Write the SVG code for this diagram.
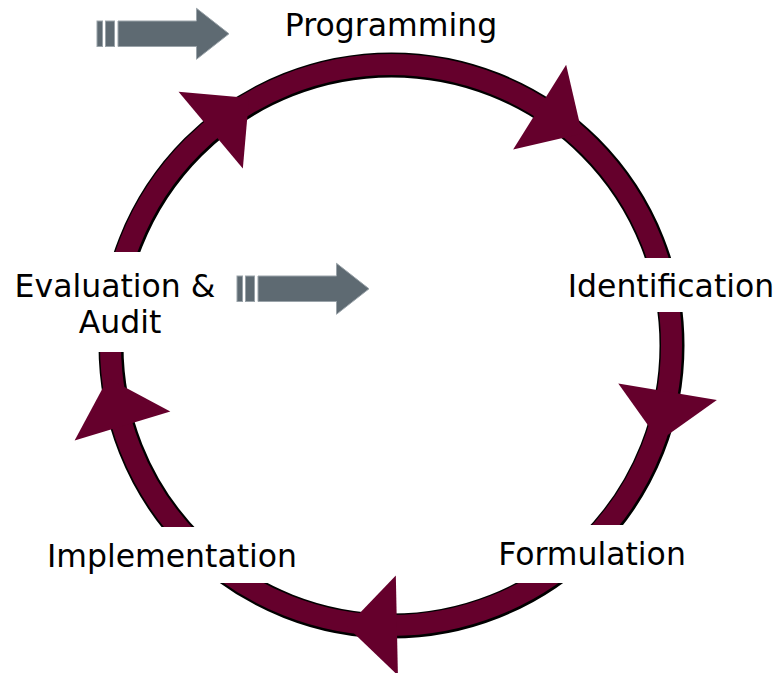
<svg xmlns="http://www.w3.org/2000/svg" xmlns:xlink="http://www.w3.org/1999/xlink" width="780" height="673" viewBox="0 0 780 673">
<style>
.lbl{font-family:"DejaVu Sans","Verdana",sans-serif;font-size:31.5px;fill:#000;text-anchor:middle}
.bg{fill:#fff}
.ring-shadow{fill:none;stroke:#000;stroke-width:25}
.ring{fill:none;stroke:#65002c;stroke-width:21}
.ah{fill:#65002c}
.garrow{fill:#5e6a72;stroke:#9aa3a9;stroke-width:1}
</style>
<defs>
<polygon id="head" points="-50,0 50,0 0,50"/>
<g id="grey">
<rect x="0" y="0" width="5.5" height="25.5"/>
<rect x="8.5" y="0" width="9" height="25.5"/>
<polygon points="21,0 99.5,0 99.5,-12.7 132,12.8 99.5,38.3 99.5,25.5 21,25.5"/>
</g>
</defs>
<rect width="780" height="673" fill="#fff"/>
<g id="connectors">
<circle class="ring-shadow" cx="391.5" cy="345.5" r="280.5"/>
<circle class="ring" cx="391" cy="345" r="280.5"/>
<use xlink:href="#head" class="ah" transform="rotate(230 391 345) translate(671.5 345)"/>
<use xlink:href="#head" class="ah" transform="rotate(302 391 345) translate(671.5 345)"/>
<use xlink:href="#head" class="ah" transform="rotate(9.6 391 345) translate(671.5 345)"/>
<use xlink:href="#head" class="ah" transform="rotate(88.8 391 345) translate(671.5 345)"/>
<use xlink:href="#head" class="ah" transform="rotate(163.2 391 345) translate(671.5 345)"/>
<use xlink:href="#grey" class="garrow" transform="translate(97 21)"/>
<use xlink:href="#grey" class="garrow" transform="translate(237 276)"/>
</g>
<g id="programming">
<text class="lbl" x="391" y="36">Programming</text>
</g>
<g id="identification">
<rect class="bg" x="560" y="258" width="220" height="54"/>
<text class="lbl" x="671" y="297">Identification</text>
</g>
<g id="formulation">
<rect class="bg" x="490" y="525" width="205" height="58"/>
<text class="lbl" x="592" y="565">Formulation</text>
</g>
<g id="implementation">
<rect class="bg" x="40" y="527" width="265" height="56"/>
<text class="lbl" x="172" y="567">Implementation</text>
</g>
<g id="evaluation">
<rect class="bg" x="8" y="252" width="214" height="100"/>
<text class="lbl" x="115" y="297">Evaluation &amp;</text>
<text class="lbl" x="120" y="333">Audit</text>
</g>
</svg>
